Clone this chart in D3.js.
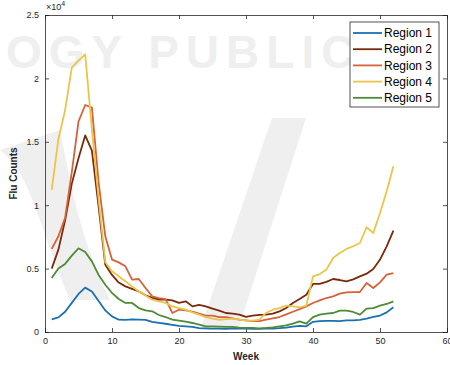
<!DOCTYPE html>
<html>
<head>
<meta charset="utf-8">
<script src="https://cdn.jsdelivr.net/npm/d3@7"></script>
<style>
  body { margin: 0; background: #fff; }
  svg { display: block; font-family: "Liberation Sans", Arial, sans-serif; }
</style>
</head>
<body>
<div id="chart"></div>
<script>
'use strict';

// weeks 1..52
var weeks = d3.range(1, 53);
var seriesNames = ['Region 1', 'Region 2', 'Region 3', 'Region 4', 'Region 5'];
var seriesColors = ['#1b70b0', '#7a2a0c', '#d4633a', '#e9c64a', '#4e8b36'];

var region1 = [1000, 1150, 1600, 2300, 3000, 3500, 3200, 2450, 1700, 1230, 970, 960, 1000, 980, 960, 800, 720, 650, 560, 480,
  450, 400, 300, 280, 270, 270, 250, 280, 270, 260, 250, 250, 260, 270, 300, 350, 420, 480, 450, 800,
  860, 870, 880, 860, 920, 920, 950, 1050, 1200, 1300, 1550, 1950];
var region2 = [5000, 6500, 8800, 11700, 13700, 15500, 14300, 9900, 5300, 4500, 3900, 3600, 3400, 3200, 2900, 2700, 2550, 2550, 2500, 2300,
  2420, 2020, 2130, 2020, 1850, 1690, 1500, 1450, 1370, 1200, 1290, 1350, 1370, 1450, 1630, 1890, 2290, 2600, 2940, 3790,
  3800, 3950, 4180, 4100, 4000, 4150, 4390, 4600, 4970, 5710, 6760, 8000];
var region3 = [6550, 7550, 9000, 12600, 16600, 17900, 17700, 11800, 7550, 5710, 5490, 5180, 4130, 4180, 3470, 2810, 2680, 2600, 1500, 1760,
  1700, 1600, 1450, 1290, 1290, 1180, 1180, 1070, 970, 920, 860, 860, 970, 1070, 1180, 1390, 1600, 1810, 2020, 2290,
  2500, 2680, 2810, 3020, 3130, 3150, 3150, 3860, 3470, 3910, 4520, 4650];
var region4 = [11200, 15200, 17500, 20850, 21400, 21900, 16000, 10500, 5500, 4790, 4390, 4000, 3600, 3200, 2870, 2550, 2420, 2290, 2020, 1890,
  1760, 1550, 1370, 1180, 1050, 950, 1020, 1050, 970, 890, 890, 970, 1500, 1760, 1890, 2080, 2020, 1940, 2080, 4390,
  4570, 4920, 5840, 6230, 6550, 6760, 7020, 8260, 7810, 9390, 11100, 13070];
var region5 = [4260, 5000, 5370, 6020, 6600, 6310, 5570, 4500, 3730, 3080, 2600, 2290, 2290, 1890, 1700, 1630, 1340, 1180, 970, 890,
  820, 710, 580, 450, 450, 420, 400, 400, 350, 320, 320, 290, 320, 370, 450, 530, 660, 840, 660, 1180,
  1370, 1450, 1500, 1690, 1690, 1580, 1370, 1840, 1890, 2080, 2210, 2420];
var seriesValues = [region1, region2, region3, region4, region5];

var xTicks = [0, 10, 20, 30, 40, 50, 60];
var yTicks = [0, 5000, 10000, 15000, 20000, 25000];

var W = 450, H = 365;
var margin = {top: 15, right: 3, bottom: 33, left: 45};
var width = W - margin.left - margin.right;
var height = H - margin.top - margin.bottom;
var axisColor = '#262626';

var svg = d3.select('#chart').append('svg')
  .attr('width', W)
  .attr('height', H);

// faint publisher watermark behind the chart
var wm = svg.append('g').attr('fill', '#efefef');
wm.append('path')
  .attr('d', 'M0,150 C30,170 40,230 70,300 L110,300 C80,240 70,180 60,130 Z');
wm.append('path')
  .attr('d', 'M272,118 L306,118 L238,330 L200,330 Z');
wm.append('text')
  .attr('x', 6).attr('y', 68)
  .attr('font-size', 46).attr('font-weight', 'bold')
  .attr('letter-spacing', 7)
  .text('OGY PUBLICA');

var g = svg.append('g')
  .attr('transform', 'translate(' + margin.left + ',' + margin.top + ')');

var x = d3.scaleLinear().domain([0, 60]).range([0, width]);
var y = d3.scaleLinear().domain([0, 25000]).range([height, 0]);

var tickFmt = function(d){ return d3.format('~g')(d / 10000); };

var xAxis = d3.axisBottom(x).tickValues(xTicks).tickSize(-4).tickPadding(6);
var yAxis = d3.axisLeft(y).tickValues(yTicks).tickSize(-4).tickPadding(6).tickFormat(tickFmt);
var xTop = d3.axisTop(x).tickValues(xTicks).tickSize(-4).tickFormat('');
var yRight = d3.axisRight(y).tickValues(yTicks).tickSize(-4).tickFormat('');

function styleAxis(sel){
  sel.selectAll('path').attr('stroke', axisColor).attr('stroke-width', 0.8);
  sel.selectAll('line').attr('stroke', axisColor).attr('stroke-width', 0.8);
  sel.selectAll('text').attr('fill', axisColor).attr('font-size', 9)
    .attr('font-family', '"Liberation Sans", Arial, sans-serif');
}

g.append('g').attr('transform', 'translate(0,' + height + ')').call(xAxis).call(styleAxis);
g.append('g').call(yAxis).call(styleAxis);
g.append('g').call(xTop).call(styleAxis);
g.append('g').attr('transform', 'translate(' + width + ',0)').call(yRight).call(styleAxis);

// series lines
var line = d3.line()
  .x(function(d){ return x(d[0]); })
  .y(function(d){ return y(d[1]); });

seriesValues.forEach(function(vals, i){
  g.append('path')
    .datum(weeks.map(function(w, j){ return [w, vals[j]]; }))
    .attr('fill', 'none')
    .attr('stroke', seriesColors[i])
    .attr('stroke-width', 1.8)
    .attr('stroke-linejoin', 'round')
    .attr('d', line);
});

// exponent label
var expo = svg.append('text')
  .attr('x', margin.left + 1).attr('y', 10)
  .attr('font-size', 9).attr('fill', axisColor);
expo.append('tspan').text('\u00d710');
expo.append('tspan').attr('dy', -4).attr('font-size', 7).text('4');

// axis titles
svg.append('text')
  .attr('x', margin.left + width / 2).attr('y', 360)
  .attr('text-anchor', 'middle')
  .attr('font-size', 10).attr('font-weight', 'bold').attr('fill', axisColor)
  .text('Week');

svg.append('text')
  .attr('transform', 'translate(17,' + (margin.top + height / 2) + ') rotate(-90)')
  .attr('text-anchor', 'middle')
  .attr('font-size', 10).attr('font-weight', 'bold').attr('fill', axisColor)
  .text('Flu Counts');

// legend
var legend = svg.append('g').attr('transform', 'translate(350,22)');
legend.append('rect')
  .attr('width', 89).attr('height', 85)
  .attr('fill', '#fff').attr('stroke', axisColor).attr('stroke-width', 0.8);

var item = legend.selectAll('g.item').data(seriesNames).enter()
  .append('g').attr('class', 'item')
  .attr('transform', function(d, i){ return 'translate(0,' + (11 + i * 16.2) + ')'; });

item.append('line')
  .attr('x1', 3).attr('x2', 32)
  .attr('stroke', function(d, i){ return seriesColors[i]; })
  .attr('stroke-width', 1.8);

item.append('text')
  .attr('x', 34).attr('dy', '0.35em')
  .attr('font-size', 12).attr('fill', '#000')
  .text(function(d){ return d; });
</script>
</body>
</html>
